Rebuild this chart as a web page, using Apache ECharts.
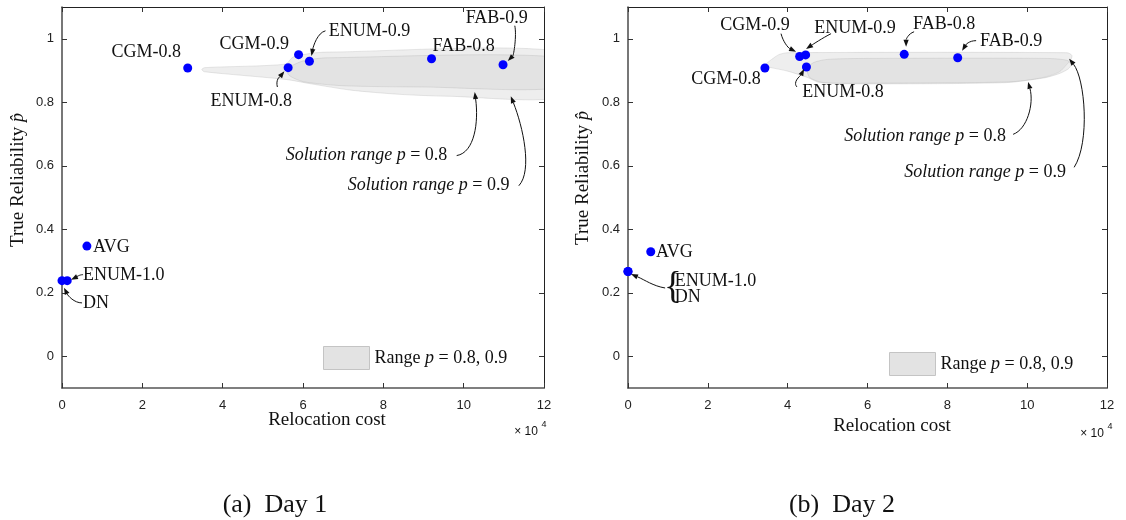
<!DOCTYPE html>
<html>
<head>
<meta charset="utf-8">
<script src="https://cdn.jsdelivr.net/npm/echarts@6/dist/echarts.min.js"></script>
<style>html,body{margin:0;padding:0;background:#fff;}#c{width:1126px;height:520px;}</style>
</head>
<body>
<div id="c"></div>
<script>
// ---------- data ----------
const METHODS_DAY1 = ['CGM-0.8','CGM-0.9','ENUM-0.8','ENUM-0.9','FAB-0.8','FAB-0.9','AVG','ENUM-1.0','DN'];
const COST_DAY1 = [31300, 58900, 56300, 61600, 92000, 109800, 6200, 1300, 0];
const REL_DAY1  = [0.908, 0.950, 0.909, 0.929, 0.937, 0.918, 0.347, 0.238, 0.238];

const METHODS_DAY2 = ['CGM-0.8','CGM-0.9','ENUM-0.8','ENUM-0.9','FAB-0.8','FAB-0.9','AVG','ENUM-1.0','DN'];
const COST_DAY2 = [34300, 43000, 44700, 44500, 69200, 82600, 5700, 0, 0];
const REL_DAY2  = [0.908, 0.944, 0.911, 0.949, 0.951, 0.940, 0.329, 0.267, 0.267];

// solution ranges (cost, reliability) outlines
const RANGE09_DAY1 = [[34800,0.903],[35500,0.909],[55600,0.920],[57500,0.942],[62000,0.954],[66000,0.958],[125000,0.958],[125000,0.819],[96000,0.819],[84000,0.825],[72000,0.838],[62000,0.858],[55600,0.872],[35500,0.896]];
const RANGE08_DAY1 = [[56000,0.905],[60000,0.930],[66000,0.940],[125000,0.940],[125000,0.848],[90000,0.848],[70000,0.852],[60000,0.865],[56500,0.885]];
const RANGE09_DAY2 = [[34200,0.915],[36000,0.935],[37800,0.950],[40000,0.956],[110000,0.956],[111200,0.948],[111000,0.935],[110000,0.920],[108000,0.895],[104000,0.878],[95000,0.862],[60000,0.858],[48000,0.862],[45000,0.878],[40000,0.898],[35500,0.910]];
const RANGE08_DAY2 = [[44900,0.905],[46500,0.925],[50000,0.935],[60000,0.938],[105000,0.938],[110000,0.932],[111000,0.918],[110300,0.905],[108000,0.890],[104000,0.876],[95000,0.864],[60000,0.860],[49000,0.862],[45500,0.878]];

const Y_TICKS = [0, 0.2, 0.4, 0.6, 0.8, 1];
const X_TICK_STEP = 20000;
const X_SCALE = 10000;

// ---------- annotation layout ----------
const SOL08 = '{it|Solution range p} = 0.8';
const SOL09 = '{it|Solution range p} = 0.9';
const LABELS_DAY1 = [
  {t:'CGM-0.8', x:20950, y:0.956},
  {t:'CGM-0.9', x:47880, y:0.984},
  {t:'ENUM-0.9', x:76560, y:1.022},
  {t:'FAB-0.8', x:100010, y:0.975},
  {t:'FAB-0.9', x:108240, y:1.063},
  {t:'ENUM-0.8', x:47140, y:0.803},
  {t:SOL08, x:75820, y:0.632},
  {t:SOL09, x:91280, y:0.537},
  {t:'AVG', x:7730, y:0.343, a:'left'},
  {t:'ENUM-1.0', x:5240, y:0.254, a:'left'},
  {t:'DN', x:5240, y:0.168, a:'left'}
];
const ARROWS_DAY1 = [
  {s:[65590,1.025], e:[62100,0.946], c1:[-8,2], c2:[2,-10]},
  {s:[112730,1.041], e:[110980,0.930], c1:[2,10], c2:[6,-6]},
  {s:[53620,0.848], e:[55370,0.898], c1:[-2,-8], c2:[-4,5]},
  {s:[98260,0.632], e:[102750,0.832], c1:[18,-3], c2:[4,30]},
  {s:[113730,0.537], e:[111730,0.819], c1:[14,-15], c2:[12,30]},
  {s:[5240,0.257], e:[2240,0.241], c1:[-4,0], c2:[4,-2]},
  {s:[4990,0.168], e:[500,0.216], c1:[-8,0], c2:[4,8]}
];
const LABELS_DAY2 = [
  {t:'CGM-0.9', x:31830, y:1.041},
  {t:'ENUM-0.9', x:56890, y:1.032},
  {t:'FAB-0.8', x:79190, y:1.047},
  {t:'FAB-0.9', x:95980, y:0.991},
  {t:'CGM-0.8', x:24560, y:0.873},
  {t:'ENUM-0.8', x:53880, y:0.832},
  {t:SOL08, x:74430, y:0.693},
  {t:SOL09, x:89460, y:0.579},
  {t:'AVG', x:7020, y:0.329, a:'left'},
  {t:'ENUM-1.0', x:11700, y:0.237, a:'left'},
  {t:'DN', x:11700, y:0.187, a:'left'},
  {t:'{br|{}', x:9000, y:0.214, a:'left'}
];
const ARROWS_DAY2 = [
  {s:[38340,1.016], e:[42100,0.959], c1:[2,8], c2:[-8,-4]},
  {s:[50870,1.016], e:[44610,0.968], c1:[-8,4], c2:[6,-4]},
  {s:[71670,1.022], e:[69670,0.975], c1:[-6,2], c2:[0,-7]},
  {s:[87210,0.994], e:[83700,0.962], c1:[-8,0], c2:[3,-5]},
  {s:[42350,0.848], e:[44110,0.905], c1:[-5,-5], c2:[-3,6]},
  {s:[96480,0.699], e:[100240,0.864], c1:[14,-5], c2:[6,22]},
  {s:[111770,0.595], e:[110510,0.937], c1:[16,-25], c2:[16,20]},
  {s:[9300,0.215], e:[750,0.259], c1:[-12,-2], c2:[14,6]}
];

// ---------- styles ----------
const SERIF = 'Liberation Serif';
const SANS = 'Liberation Sans';
const FS = 18;
const RICH = {
  it: {fontStyle:'italic', fontFamily:SERIF, fontSize:FS, fill:'#111', color:'#111'},
  br: {fontFamily:SERIF, fontSize:37, fill:'#111', color:'#111'}
};

function polyRender(polys, fills) {
  return function (params, api) {
    const pts = polys[params.dataIndex].map(p => api.coord(p));
    return {
      type:'group',
      clipPath:{type:'rect', shape:{x:params.coordSys.x, y:params.coordSys.y, width:params.coordSys.width, height:params.coordSys.height}},
      children:[{type:'polygon', shape:{points:pts, smooth:0.25}, style:{fill:fills[params.dataIndex], stroke:'rgba(150,150,150,0.28)', lineWidth:0.8}}]
    };
  };
}
function textRender(labels) {
  return function (params, api) {
    const l = labels[params.dataIndex];
    const p = api.coord([api.value(0), api.value(1)]);
    return {type:'text', x:p[0], y:p[1], silent:true,
      style:{text:l.t, fontFamily:SERIF, fontSize:FS, fill:'#111', align:l.a || 'center', verticalAlign:'middle', rich:RICH}};
  };
}
function arrowRender(arrows) {
  return function (params, api) {
    const a = arrows[params.dataIndex];
    const s = api.coord(a.s), e = api.coord(a.e);
    const c1 = [s[0]+a.c1[0], s[1]+a.c1[1]], c2 = [e[0]+a.c2[0], e[1]+a.c2[1]];
    let dx = e[0]-c2[0], dy = e[1]-c2[1];
    const L = Math.hypot(dx, dy) || 1; dx /= L; dy /= L;
    const hl = 7, hw = 2.6;
    const b = [e[0]-dx*hl, e[1]-dy*hl];
    const nx = -dy, ny = dx;
    return {type:'group', silent:true, children:[
      {type:'bezierCurve', shape:{x1:s[0], y1:s[1], cpx1:c1[0], cpy1:c1[1], cpx2:c2[0], cpy2:c2[1], x2:b[0], y2:b[1]}, style:{stroke:'#111', lineWidth:1, fill:'none'}},
      {type:'polygon', shape:{points:[e, [b[0]+nx*hw, b[1]+ny*hw], [b[0]-nx*hw, b[1]-ny*hw]]}, style:{fill:'#111'}}
    ]};
  };
}

const grids = [
  {left:62, top:7, width:482, height:381},
  {left:628, top:7, width:479, height:381}
];
const xAxes = [], yAxes = [], series = [];
const days = [
  {cost:COST_DAY1, rel:REL_DAY1, names:METHODS_DAY1, r09:RANGE09_DAY1, r08:RANGE08_DAY1, labels:LABELS_DAY1, arrows:ARROWS_DAY1},
  {cost:COST_DAY2, rel:REL_DAY2, names:METHODS_DAY2, r09:RANGE09_DAY2, r08:RANGE08_DAY2, labels:LABELS_DAY2, arrows:ARROWS_DAY2}
];
days.forEach((d, g) => {
  const base = {type:'value', gridIndex:g, min:0, max:120000, interval:X_TICK_STEP, splitLine:{show:false}};
  xAxes.push(Object.assign({}, base, {position:'bottom',
    axisLine:{show:true, onZero:false, lineStyle:{color:'#555', width:1.6}},
    axisTick:{show:true, inside:true, length:5, lineStyle:{color:'#333'}},
    axisLabel:{show:true, margin:11, fontFamily:SANS, fontSize:13, color:'#222', formatter:v => String(v / X_SCALE)}}));
  xAxes.push(Object.assign({}, base, {position:'top',
    axisLine:{show:true, onZero:false, lineStyle:{color:'#222', width:1}},
    axisTick:{show:true, inside:true, length:5, lineStyle:{color:'#333'}},
    axisLabel:{show:false}}));
  const ybase = {type:'value', gridIndex:g, min:-0.1, max:1.1, splitLine:{show:false}};
  yAxes.push(Object.assign({}, ybase, {position:'left',
    axisLine:{show:true, onZero:false, lineStyle:{color:'#555', width:1.6}},
    axisTick:{show:true, inside:true, length:5, customValues:Y_TICKS, lineStyle:{color:'#333'}},
    axisLabel:{show:true, margin:8, customValues:Y_TICKS, fontFamily:SANS, fontSize:13, color:'#222', formatter:v => String(Math.round(v*10)/10)}}));
  yAxes.push(Object.assign({}, ybase, {position:'right',
    axisLine:{show:true, onZero:false, lineStyle:{color:'#222', width:1}},
    axisTick:{show:true, inside:true, length:5, customValues:Y_TICKS, lineStyle:{color:'#333'}},
    axisLabel:{show:false}}));
  const xi = g*2, yi = g*2;
  series.push({name:'Range', type:'custom', xAxisIndex:xi, yAxisIndex:yi, silent:true, z:1,
    itemStyle:{color:'#e3e3e3'},
    renderItem:polyRender([d.r09, d.r08], ['rgba(205,205,205,0.35)', 'rgba(205,205,205,0.35)']),
    data:[[0],[1]]});
  series.push({type:'scatter', xAxisIndex:xi, yAxisIndex:yi, symbolSize:9, z:5, silent:true,
    itemStyle:{color:'#0000ff', opacity:1},
    data:d.cost.map((c, i) => ({name:d.names[i], value:[c, d.rel[i]]}))});
  series.push({type:'custom', xAxisIndex:xi, yAxisIndex:yi, silent:true, z:6,
    renderItem:arrowRender(d.arrows),
    encode:{x:[0,2], y:[1,3]},
    data:d.arrows.map(a => [a.s[0], a.s[1], a.e[0], a.e[1]])});
  series.push({type:'custom', xAxisIndex:xi, yAxisIndex:yi, silent:true, z:7,
    renderItem:textRender(d.labels),
    data:d.labels.map(l => [l.x, l.y])});
});

const legendBase = {
  data:['Range'], icon:'rect', itemWidth:46, itemHeight:23, selectedMode:false,
  itemStyle:{color:'#e3e3e3', borderColor:'#c4c4c4', borderWidth:1},
  formatter:() => 'Range {it|p} = 0.8, 0.9',
  textStyle:{fontFamily:SERIF, fontSize:FS, color:'#111', rich:{it:{fontStyle:'italic', fontFamily:SERIF, fontSize:FS, color:'#111'}}}
};
const legends = [
  Object.assign({}, legendBase, {left:323, top:346, padding:0}),
  Object.assign({}, legendBase, {left:889, top:352, padding:0})
];

function txt(x, y, text, opt) {
  return Object.assign({type:'text', x:x, y:y, silent:true,
    style:Object.assign({text:text, fontFamily:SERIF, fontSize:FS, fill:'#111', align:'center', verticalAlign:'middle', rich:RICH}, opt && opt.style)},
    opt && opt.el);
}
const graphics = [
  txt(327, 420, 'Relocation cost', {style:{fontSize:19}}),
  txt(892, 426, 'Relocation cost', {style:{fontSize:19}}),
  txt(18, 180, 'True Reliability {it|p̂}', {el:{rotation:Math.PI/2}, style:{fontSize:19}}),
  txt(583, 178, 'True Reliability {it|p̂}', {el:{rotation:Math.PI/2}, style:{fontSize:19}}),
  txt(526, 432, '× 10', {style:{fontFamily:SANS, fontSize:12}}),
  txt(544, 425, '4', {style:{fontFamily:SANS, fontSize:9}}),
  txt(1092, 434, '× 10', {style:{fontFamily:SANS, fontSize:12}}),
  txt(1110, 427, '4', {style:{fontFamily:SANS, fontSize:9}}),
  txt(275, 505, '(a)  Day 1', {style:{fontSize:26}}),
  txt(842, 505, '(b)  Day 2', {style:{fontSize:26}})
];

const chart = echarts.init(document.getElementById('c'), null, {renderer:'canvas'});
chart.setOption({
  animation:false,
  backgroundColor:'#fff',
  grid:grids,
  xAxis:xAxes,
  yAxis:yAxes,
  legend:legends,
  series:series,
  graphic:graphics
});
</script>
</body>
</html>
